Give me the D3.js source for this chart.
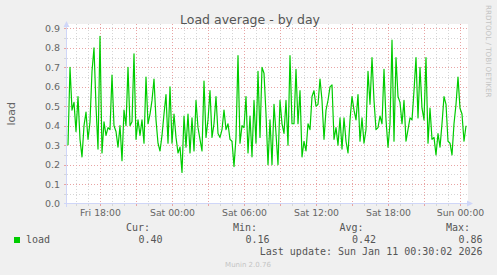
<!DOCTYPE html>
<html>
<head>
<meta charset="utf-8">
<script src="https://cdn.jsdelivr.net/npm/d3@7"></script>
<style>
  body { margin: 0; background: #f0f0f0; }
  svg { display: block; }
  text { font-family: "DejaVu Sans", sans-serif; }
  .mono { font-family: "DejaVu Sans Mono", monospace; }
</style>
</head>
<body>
<svg width="497" height="275"></svg>
<script>
// Munin "load average - by day" graph, redrawn with d3

// Samples every 10 minutes, first one Fri Jan 9 2026 15:20
var sampleStart = new Date(2026, 0, 9, 15, 20);
var sampleMinutes = 10;

var loadValues = [
  0.30, 0.70, 0.48, 0.52, 0.37, 0.55, 0.33, 0.24, 0.40, 0.47,
  0.33, 0.42, 0.68, 0.80, 0.50, 0.28, 0.86, 0.26, 0.42, 0.35,
  0.39, 0.38, 0.66, 0.40, 0.37, 0.29, 0.40, 0.22, 0.48, 0.40,
  0.70, 0.40, 0.42, 0.77, 0.33, 0.43, 0.35, 0.43, 0.31, 0.65,
  0.41, 0.46, 0.53, 0.64, 0.43, 0.31, 0.27, 0.35, 0.46, 0.56,
  0.31, 0.60, 0.31, 0.46, 0.34, 0.26, 0.29, 0.16, 0.45, 0.29,
  0.46, 0.26, 0.44, 0.27, 0.53, 0.39, 0.33, 0.27, 0.63, 0.34,
  0.43, 0.58, 0.34, 0.41, 0.55, 0.36, 0.34, 0.38, 0.48, 0.38,
  0.41, 0.33, 0.32, 0.19, 0.34, 0.76, 0.31, 0.40, 0.39, 0.55,
  0.26, 0.45, 0.24, 0.53, 0.31, 0.68, 0.34, 0.70, 0.67, 0.46,
  0.20, 0.43, 0.20, 0.51, 0.36, 0.20, 0.53, 0.41, 0.36, 0.53,
  0.30, 0.76, 0.41, 0.41, 0.69, 0.41, 0.58, 0.24, 0.32, 0.27,
  0.41, 0.38, 0.55, 0.58, 0.50, 0.51, 0.64, 0.53, 0.33, 0.48,
  0.53, 0.60, 0.61, 0.33, 0.39, 0.30, 0.44, 0.28, 0.44, 0.32,
  0.26, 0.43, 0.55, 0.48, 0.43, 0.56, 0.32, 0.44, 0.31, 0.38,
  0.68, 0.51, 0.75, 0.53, 0.38, 0.39, 0.45, 0.41, 0.69, 0.43,
  0.29, 0.41, 0.84, 0.32, 0.75, 0.55, 0.52, 0.41, 0.53, 0.32,
  0.38, 0.44, 0.43, 0.58, 0.75, 0.44, 0.70, 0.49, 0.43, 0.75,
  0.31, 0.49, 0.33, 0.34, 0.25, 0.36, 0.29, 0.41, 0.55, 0.51,
  0.32, 0.31, 0.25, 0.41, 0.51, 0.65, 0.49, 0.46, 0.32, 0.40
];

var yTicks = [0.0, 0.1, 0.2, 0.3, 0.4, 0.5, 0.6, 0.7, 0.8, 0.9];
var xTickDates = [
  new Date(2026, 0, 9, 18), new Date(2026, 0, 10, 0), new Date(2026, 0, 10, 6),
  new Date(2026, 0, 10, 12), new Date(2026, 0, 10, 18), new Date(2026, 0, 11, 0)
];

var legendHeads = ["Cur:", "Min:", "Avg:", "Max:"];
var legendValues = ["0.40", "0.16", "0.42", "0.86"];
var lastUpdate = "Last update: Sun Jan 11 00:30:02 2026";

var data = loadValues.map(function(v, i) {
    return { t: new Date(sampleStart.getTime() + i * sampleMinutes * 60000), val: v };
});

var svg = d3.select("svg");
var canvas = { left: 67, right: 468, top: 24, bottom: 203.5 };

var x = d3.scaleTime()
    .domain([new Date(2026, 0, 9, 15, 15), new Date(2026, 0, 11, 0, 40)])
    .range([canvas.left, canvas.right]);
var y = d3.scaleLinear()
    .domain([0, 0.923])
    .range([canvas.bottom, canvas.top]);

var minorColor = "#d6d6d6", majorColor = "#e8a4a4", axisColor = "#cfd6f8";

// white plotting canvas
svg.append("rect")
    .attr("x", canvas.left).attr("y", canvas.top)
    .attr("width", canvas.right - canvas.left)
    .attr("height", canvas.bottom - canvas.top)
    .attr("fill", "#fff");

var grid = svg.append("g").attr("shape-rendering", "crispEdges");

// vertical grid: every hour grey, every 3 hours red
x.ticks(d3.timeHour.every(1)).forEach(function(d) {
    var major = d.getHours() % 3 == 0;
    var px = Math.round(x(d)) + 0.5;
    grid.append("line")
        .attr("x1", px).attr("x2", px)
        .attr("y1", canvas.top).attr("y2", canvas.bottom)
        .attr("stroke", major ? majorColor : minorColor)
        .attr("stroke-dasharray", "1,2");
    grid.append("line")
        .attr("x1", px).attr("x2", px)
        .attr("y1", canvas.bottom).attr("y2", canvas.bottom + 2.5)
        .attr("stroke", major ? majorColor : minorColor);
});

// horizontal grid: every 0.05 grey, every 0.1 red
d3.range(0.05, 0.92, 0.05).forEach(function(v, i) {
    var major = i % 2 == 1;
    var py = Math.round(y(v)) + 0.5;
    grid.append("line")
        .attr("x1", canvas.left).attr("x2", canvas.right)
        .attr("y1", py).attr("y2", py)
        .attr("stroke", major ? majorColor : minorColor)
        .attr("stroke-dasharray", "1,2");
    grid.append("line")
        .attr("x1", canvas.left - 3).attr("x2", canvas.left)
        .attr("y1", py).attr("y2", py)
        .attr("stroke", major ? majorColor : minorColor);
});

// axes with arrows
grid.append("line")
    .attr("x1", canvas.left - 0.5).attr("x2", canvas.left - 0.5)
    .attr("y1", canvas.bottom + 3).attr("y2", canvas.top - 1)
    .attr("stroke", axisColor);
grid.append("line")
    .attr("x1", canvas.left - 3).attr("x2", canvas.right + 2)
    .attr("y1", canvas.bottom).attr("y2", canvas.bottom)
    .attr("stroke", axisColor);
svg.append("path")
    .attr("d", "M" + (canvas.left - 0.5) + "," + (canvas.top - 3) + "l-3,6h6z")
    .attr("fill", axisColor);
svg.append("path")
    .attr("d", "M" + (canvas.right + 5) + "," + canvas.bottom + "l-6,-3v6z")
    .attr("fill", axisColor);

// tick labels
svg.append("g")
    .attr("transform", "translate(" + (canvas.left - 3) + ",0)")
    .call(d3.axisLeft(y).tickValues(yTicks).tickFormat(d3.format(".1f")).tickSize(0).tickPadding(4))
    .call(function(g) { g.select(".domain").remove(); })
    .selectAll("text")
      .attr("font-family", "DejaVu Sans")
      .attr("font-size", "9.5px")
      .attr("fill", "#666");

svg.append("g")
    .attr("transform", "translate(0," + canvas.bottom + ")")
    .call(d3.axisBottom(x).tickValues(xTickDates).tickFormat(d3.timeFormat("%a %H:%M")).tickSize(0).tickPadding(6))
    .call(function(g) { g.select(".domain").remove(); })
    .selectAll("text")
      .attr("font-family", "DejaVu Sans")
      .attr("font-size", "9.3px")
      .attr("fill", "#666");

// the load line
var line = d3.line()
    .x(function(d) { return x(d.t); })
    .y(function(d) { return y(d.val); });

svg.append("path")
    .datum(data)
    .attr("d", line)
    .attr("fill", "none")
    .attr("stroke", "#00cc00")
    .attr("stroke-width", 1.2)
    .attr("stroke-linejoin", "round");

// titles
svg.append("text")
    .attr("x", 250).attr("y", 24)
    .attr("text-anchor", "middle")
    .attr("font-size", "12.5px")
    .attr("fill", "#555")
    .text("Load average - by day");

svg.append("text")
    .attr("transform", "translate(15," + ((canvas.top + canvas.bottom) / 2) + ") rotate(-90)")
    .attr("text-anchor", "middle")
    .attr("font-size", "11px")
    .attr("fill", "#666")
    .text("load");

svg.append("text")
    .attr("transform", "translate(486,5) rotate(90)")
    .attr("font-size", "7.2px")
    .attr("fill", "#c4c4c4")
    .text("RRDTOOL / TOBI OETIKER");

// legend
var legendRight = [150, 257, 363.5, 470];
svg.append("rect")
    .attr("x", 14).attr("y", 237)
    .attr("width", 6).attr("height", 6)
    .attr("fill", "#00cc00");
svg.append("text").attr("class", "mono")
    .attr("x", 26).attr("y", 243)
    .attr("font-size", "10px").attr("fill", "#555")
    .text("load");

legendHeads.forEach(function(h, i) {
    svg.append("text").attr("class", "mono")
        .attr("x", legendRight[i]).attr("y", 231)
        .attr("text-anchor", "end")
        .attr("font-size", "10px").attr("fill", "#555")
        .text(h);
    svg.append("text").attr("class", "mono")
        .attr("x", legendRight[i] + 12.5).attr("y", 243)
        .attr("text-anchor", "end")
        .attr("font-size", "10px").attr("fill", "#555")
        .text(legendValues[i]);
});

svg.append("text").attr("class", "mono")
    .attr("x", 482.5).attr("y", 255)
    .attr("text-anchor", "end")
    .attr("font-size", "10px").attr("fill", "#555")
    .text(lastUpdate);

svg.append("text")
    .attr("x", 248).attr("y", 267)
    .attr("text-anchor", "middle")
    .attr("font-size", "7px")
    .attr("fill", "#c4c4c4")
    .text("Munin 2.0.76");
</script>
</body>
</html>
